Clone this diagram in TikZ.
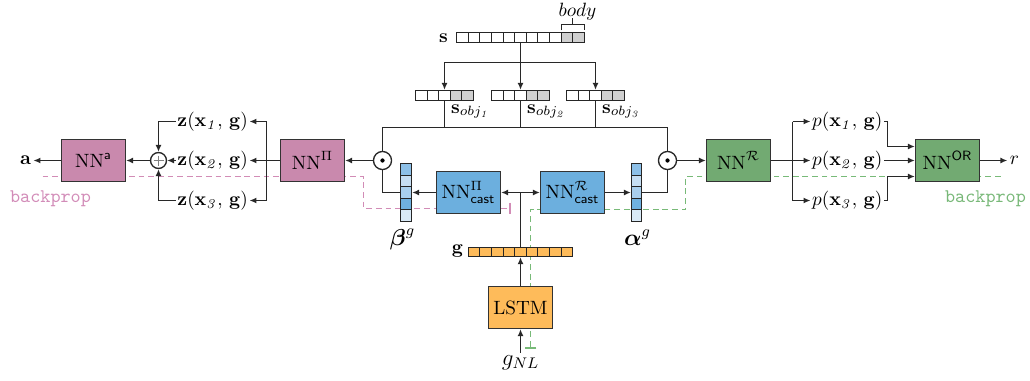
\documentclass[tikz,border=0pt]{standalone}
\usepackage{amsmath,amssymb}
\usetikzlibrary{arrows.meta,calc}
\definecolor{pinkbox}{RGB}{201,137,173}
\definecolor{greenbox}{RGB}{114,170,114}
\definecolor{bluebox}{RGB}{108,175,222}
\definecolor{orangebox}{RGB}{254,187,90}
\definecolor{pinkline}{RGB}{210,140,182}
\definecolor{greenline}{RGB}{120,186,120}
\definecolor{pinktext}{RGB}{210,140,184}
\definecolor{greentext}{RGB}{120,184,120}
\definecolor{bA}{RGB}{141,192,232}
\definecolor{bB}{RGB}{198,222,243}
\definecolor{bC}{RGB}{169,207,238}
\definecolor{bD}{RGB}{111,177,225}
\definecolor{bE}{RGB}{217,234,247}
\definecolor{grcell}{RGB}{208,208,208}
\definecolor{ln}{RGB}{40,40,40}
\begin{document}
\begin{tikzpicture}[x=0.52pt,y=-0.52pt,
  line width=0.7pt, draw=ln,
  every node/.style={inner sep=1pt},
  arr/.style={-{Latex[length=3.6pt,width=3.1pt]}},
  nnbox/.style={draw=black!80,line width=0.7pt,minimum width=33.28pt,minimum height=21.84pt,inner sep=0pt},
  vecnode/.style={draw=none,inner sep=0pt},
  cellst/.style={draw=black!85,line width=0.5pt},
  odotc/.style={circle,draw=ln,minimum size=9.4pt,inner sep=0pt,fill=white},
  pinkdash/.style={pinkline,line width=0.65pt,dash pattern=on 3pt off 2pt},
  greendash/.style={greenline,line width=0.65pt,dash pattern=on 3pt off 2pt},
  bptext/.style={font=\ttfamily},
  lab/.style={inner sep=0.5pt},
]
\useasboundingbox (-0.5,-0.5) rectangle (1029.5,380.5);

% ---------- backprop dashed paths (behind) ----------
\coordinate (pkA) at (42,176);
\coordinate (pkB) at (363,176);
\coordinate (pkC) at (363,208);
\coordinate (pkD) at (510,208);
\draw[pinkdash,-{Bar[width=6pt,line width=0.65pt]}] (pkA) -- (pkB) -- (pkC) -- (pkD);
\coordinate (gnA) at (1000,176);
\coordinate (gnB) at (685,176);
\coordinate (gnC) at (685,209);
\coordinate (gnD) at (530,209);
\coordinate (gnE) at (530,348);
\draw[greendash,-{Bar[width=6pt,line width=0.65pt]}] (gnA) -- (gnB) -- (gnC) -- (gnD) -- (gnE);
\node[bptext,text=pinktext] (bpL) at (50,198) {backprop};
\node[bptext,text=greentext] (bpR) at (985,198) {backprop};

% ---------- state vector s ----------
\node[vecnode,minimum width=66.35pt,minimum height=5.2pt] (s) at (520,37) {};
\foreach \i in {0,...,8} \draw[cellst,fill=white] (456.2+\i*11.6,32) rectangle ++(11.6,10);
\foreach \i in {9,10} \draw[cellst,fill=grcell] (456.2+\i*11.6,32) rectangle ++(11.6,10);
\node (slab) at (443,38) {$\mathbf{s}$};
\draw[line width=0.6pt] (560.6,30) -- (560.6,24) -- (583.8,24) -- (583.8,30);
\draw[line width=0.6pt] (572,24) -- (572,18);
\node (body) at (577,11) {$body$};

% ---------- object vectors ----------
\foreach \n/\cx in {obj1/444,obj2/520,obj3/595}{
  \node[vecnode,minimum width=30.16pt,minimum height=5.2pt] (\n) at (\cx,95) {};
  \foreach \i in {0,1,2} \draw[cellst,fill=white] (\cx-29+\i*11.6,90) rectangle ++(11.6,10);
  \foreach \i in {3,4} \draw[cellst,fill=grcell] (\cx-29+\i*11.6,90) rectangle ++(11.6,10);
}
\node[anchor=west] (so1) at (448,111) {$\mathbf{s}_{obj_{\mathit{1}}}$};
\node[anchor=west] (so2) at (524,111) {$\mathbf{s}_{obj_{\mathit{2}}}$};
\node[anchor=west] (so3) at (599,111) {$\mathbf{s}_{obj_{\mathit{3}}}$};

\coordinate (sj) at (520,62);
\draw (s.south) -- (sj);
\draw[arr] (sj) -| (obj1.north);
\draw[arr] (sj) -- (obj2.north);
\draw[arr] (sj) -| (obj3.north);

% ---------- odot circles ----------
\node[odotc] (dotL) at (382,160) {};
\node[odotc] (dotR) at (667,160) {};
\fill (dotL) circle (1.1pt);
\fill (dotR) circle (1.1pt);
\coordinate (busL) at (382,127);
\coordinate (busR) at (667,127);
\draw (dotL.north) -- (busL) -- (busR) -- (dotR.north);
\draw (obj1.south) -- (obj1.south |- busL);
\draw (obj2.south) -- (obj2.south |- busL);
\draw (obj3.south) -- (obj3.south |- busL);

% ---------- beta / alpha ----------
\node[vecnode,minimum width=5.72pt,minimum height=30.16pt] (beta) at (405.5,192) {};
\foreach \c [count=\i from 0] in {bA,bB,bC,bD,bE} \draw[cellst,fill=\c] (400,163+\i*11.6) rectangle ++(11,11.6);
\node[vecnode,minimum width=5.2pt,minimum height=30.16pt] (alpha) at (636,192) {};
\foreach \c [count=\i from 0] in {bA,bB,bC,bD,bE} \draw[cellst,fill=\c] (631,163+\i*11.6) rectangle ++(10,11.6);
\node[font=\large] (betalab) at (402,239) {$\boldsymbol{\beta}^{g}$};
\node[font=\large] (alphalab) at (637,237) {$\boldsymbol{\alpha}^{g}$};

% ---------- boxes ----------
\node[nnbox,fill=pinkbox] (NNa) at (93,160) {$\mathrm{NN}^{\mathsf{a}}$};
\node[nnbox,fill=pinkbox] (NNPi) at (312,160) {$\mathrm{NN}^{\Pi}$};
\node[nnbox,fill=bluebox] (castP) at (468,192) {$\mathrm{NN}^{\Pi}_{\mathsf{cast}}$};
\node[nnbox,fill=bluebox] (castR) at (572,192) {$\mathrm{NN}^{\mathcal{R}}_{\mathsf{cast}}$};
\node[nnbox,fill=greenbox] (NNR) at (738,160) {$\mathrm{NN}^{\mathcal{R}}$};
\node[nnbox,fill=greenbox] (NNOR) at (947,160) {$\mathrm{NN}^{\mathsf{OR}}$};
\node[nnbox,fill=orangebox] (LSTM) at (520,307) {LSTM};

% ---------- goal vector g ----------
\node[vecnode,minimum width=54.29pt,minimum height=4.7pt] (g) at (520,251.5) {};
\foreach \i in {0,...,8} \draw[cellst,fill=orangebox] (467.8+\i*11.6,247) rectangle ++(11.6,9);
\node (glab) at (457,251) {$\mathbf{g}$};
\node[font=\large] (gNL) at (520,362) {$g_{NL}$};
\draw[arr] (gNL.north) -- (LSTM.south);
\draw[arr] (LSTM.north) -- (g.south);
\coordinate (gj) at (g.north |- castP.east);
\draw (g.north) -- (gj);
\draw[arr] (gj) -- (castP.east);
\draw[arr] (gj) -- (castR.west);

% ---------- middle connections ----------
\draw[arr] (castP.west) -- (beta.east);
\draw (dotL.south) |- (beta.west);
\draw[arr] (dotL.west) -- (NNPi.east);
\draw[arr] (castR.east) -- (alpha.west);
\draw (alpha.east) -| (dotR.south);
\draw[arr] (dotR.east) -- (NNR.west);

% ---------- left side ----------
\node[lab,anchor=east] (z1) at (249,121) {$\mathbf{z}(\mathbf{x}_{\mathit{1}},\,\mathbf{g})$};
\node[lab,anchor=east] (z2) at (249,160) {$\mathbf{z}(\mathbf{x}_{\mathit{2}},\,\mathbf{g})$};
\node[lab,anchor=east] (z3) at (249,200) {$\mathbf{z}(\mathbf{x}_{\mathit{3}},\,\mathbf{g})$};
\coordinate (zb) at (266,160);
\coordinate (zbt) at (266,121);
\coordinate (zbb) at (266,200);
\draw (NNPi.west) -- (zb);
\draw (zbt) -- (zbb);
\draw[arr] (zbt) -- (z1.east);
\draw[arr] (zb) -- (z2.east);
\draw[arr] (zbb) -- (z3.east);
\node[circle,draw=ln,minimum size=8.3pt,inner sep=0pt,fill=white] (plus) at (158,160) {};
\draw[black!50,line width=0.4pt] ($(plus)+(-5,0)$) -- ($(plus)+(5,0)$);
\draw[black!50,line width=0.4pt] ($(plus)+(0,-5)$) -- ($(plus)+(0,5)$);
\draw[arr] (z1.west) -| (plus.north);
\draw[arr] (z2.west) -- (plus.east);
\draw[arr] (z3.west) -| (plus.south);
\draw[arr] (plus.west) -- (NNa.east);
\node (a) at (25,160) {$\mathbf{a}$};
\draw[arr] (NNa.west) -- (a.east);

% ---------- right side ----------
\node[lab,anchor=west] (p1) at (810,121) {$p(\mathbf{x}_{\mathit{1}},\,\mathbf{g})$};
\node[lab,anchor=west] (p2) at (810,160) {$p(\mathbf{x}_{\mathit{2}},\,\mathbf{g})$};
\node[lab,anchor=west] (p3) at (810,200) {$p(\mathbf{x}_{\mathit{3}},\,\mathbf{g})$};
\coordinate (rb) at (792,160);
\coordinate (rbt) at (792,121);
\coordinate (rbb) at (792,200);
\draw (NNR.east) -- (rb);
\draw (rbt) -- (rbb);
\draw[arr] (rbt) -- (p1.west);
\draw[arr] (rb) -- (p2.west);
\draw[arr] (rbb) -- (p3.west);
\coordinate (orT) at ($(NNOR.west)+(0,-14)$);
\coordinate (orB) at ($(NNOR.west)+(0,16)$);
\coordinate (p1c) at (887,121);
\coordinate (p3c) at (887,200);
\draw[arr] (p1.east) -- (p1c) |- (orT);
\draw[arr] (p2.east) -- (NNOR.west);
\draw[arr] (p3.east) -- (p3c) |- (orB);
\node (r) at (1014,160) {$r$};
\draw[arr] (NNOR.east) -- (r.west);
\end{tikzpicture}
\end{document}
